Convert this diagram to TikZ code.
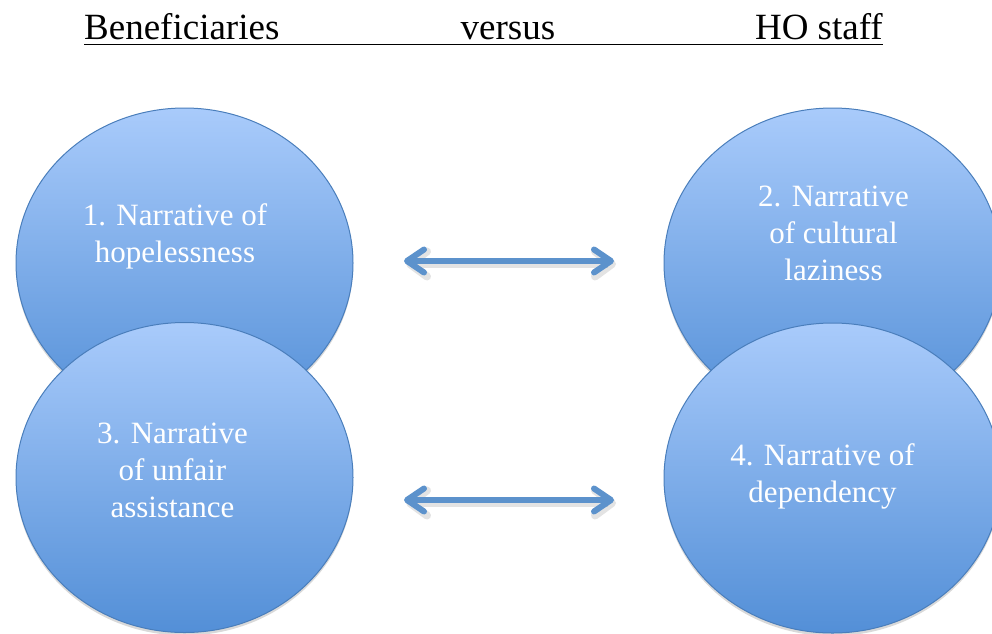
\documentclass[tikz,border=0pt]{standalone}
\usepackage{fontspec}
\setmainfont{Liberation Serif}
\usetikzlibrary{shapes.geometric,arrows.meta,shadows}
\definecolor{bubtop}{RGB}{169,203,251}
\definecolor{bubbot}{RGB}{83,143,215}
\definecolor{bubline}{RGB}{74,126,187}
\definecolor{arrcol}{RGB}{92,146,204}
\tikzset{
  bubble/.style={ellipse, minimum width=337pt, minimum height=310pt, inner sep=0pt,
    draw=bubline, line width=1pt, top color=bubtop, bottom color=bubbot,
    drop shadow={opacity=0.3, shadow xshift=0pt, shadow yshift=-3pt}},
  lbl/.style={text=white, font=\fontsize{31}{37}\selectfont, align=center, inner sep=0pt, anchor=base},
  ttl/.style={text=black, font=\fontsize{37}{40}\selectfont, inner sep=0pt},
  arr/.style={draw=arrcol, line width=6pt, {Straight Barb[length=17pt,width=23pt,round]}-{Straight Barb[length=17pt,width=23pt,round]}},
  arrsh/.style={draw=black!60, opacity=0.18, line width=8pt, {Straight Barb[length=17pt,width=25pt,round]}-{Straight Barb[length=17pt,width=25pt,round]}}
}
\begin{document}
\begin{tikzpicture}[x=1pt,y=-1pt]
\useasboundingbox (0,0) rectangle (992,633);
% title
\node[ttl, anchor=base west] (tb) at (84,39.5) {Beneficiaries};
\node[ttl, anchor=base] (tv) at (508,39.5) {versus};
\node[ttl, anchor=base east] (th) at (883,39.5) {HO staff};
\draw[line width=1.6pt] ([yshift=-5pt]tb.base west) -- ([yshift=-5pt]th.base east);
% circles
\node[bubble] (c1) at (184.5,263) {};
\node[bubble] (c2) at (832.5,263) {};
\node[bubble] (c3) at (184.5,477.5) {};
\node[bubble] (c4) at (832.5,478) {};
% labels (base = last line's baseline)
\node[lbl] (t1) at (175,262) {1. Narrative of\\hopelessness};
\node[lbl] (t2) at (833.5,280) {2. Narrative\\of cultural\\laziness};
\node[lbl] (t3) at (172.5,517) {3. Narrative\\of unfair\\assistance};
\node[lbl] (t4) at (822.5,502) {4. Narrative of\\dependency};
% arrows
\coordinate (a1l) at (404,261);
\coordinate (a1r) at (614,261);
\coordinate (a2l) at (404,500);
\coordinate (a2r) at (614,500);
\draw[arrsh] ([shift={(2pt,-3pt)}]a1l) -- ([shift={(2pt,-3pt)}]a1r);
\draw[arrsh] ([shift={(2pt,-3pt)}]a2l) -- ([shift={(2pt,-3pt)}]a2r);
\draw[arr] (a1l) -- (a1r);
\draw[arr] (a2l) -- (a2r);
\end{tikzpicture}
\end{document}
